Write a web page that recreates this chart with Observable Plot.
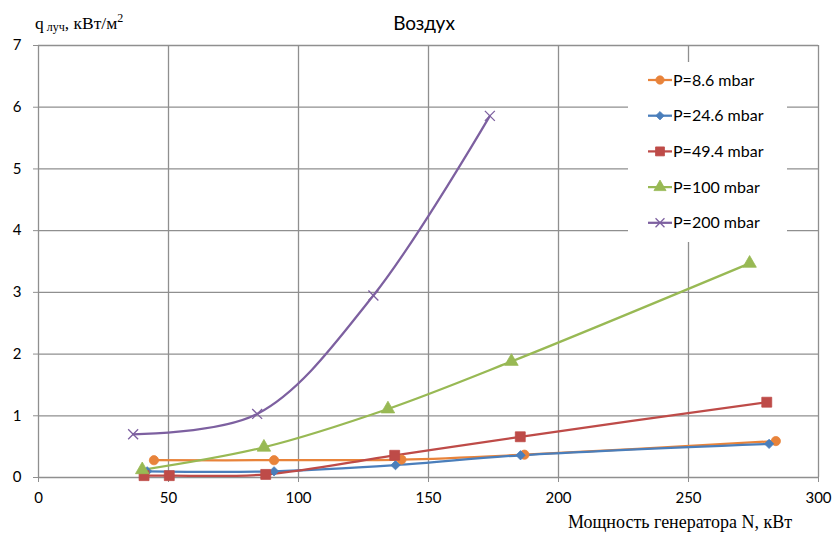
<!DOCTYPE html>
<html>
<head>
<meta charset="utf-8">
<script src="https://cdn.jsdelivr.net/npm/d3@7"></script>
<script src="https://cdn.jsdelivr.net/npm/@observablehq/plot@0.6"></script>
<style>
  html, body { margin: 0; padding: 0; background: #fff; }
  #chart svg { display: block; }
</style>
</head>
<body>
<div id="chart"></div>
<script>
// Radiant heat flux vs generator power, air, at several pressures
const seriesNames = ["P=8.6 mbar", "P=24.6 mbar", "P=49.4 mbar", "P=100 mbar", "P=200 mbar"];
const seriesColors = ["#E8833A", "#4A7EBB", "#BE4B48", "#98B954", "#7D60A0"];
const seriesSymbols = ["circle", "diamond2", "square", "triangle", "times"];
const seriesSizes = [4.6, 4.2, 5.6, 5, 4.6];

const p86N = [44.4, 90.6, 139.6, 186.9, 283.6];
const p86Q = [0.28, 0.28, 0.29, 0.37, 0.59];
const p246N = [41.8, 90.6, 137.3, 185.4, 281.0];
const p246Q = [0.10, 0.10, 0.20, 0.36, 0.545];
const p494N = [40.6, 50.3, 87.4, 137.0, 185.3, 280.1];
const p494Q = [0.03, 0.03, 0.05, 0.36, 0.66, 1.22];
const p100N = [39.9, 86.7, 134.4, 181.9, 273.5];
const p100Q = [0.125, 0.49, 1.11, 1.88, 3.47];
const p200N = [36.4, 84.1, 128.8, 173.6];
const p200Q = [0.70, 1.03, 2.95, 5.86];

const xTicks = [0, 50, 100, 150, 200, 250, 300];
const yTicks = [0, 1, 2, 3, 4, 5, 6, 7];

const seriesN = [p86N, p246N, p494N, p100N, p200N];
const seriesQ = [p86Q, p246Q, p494Q, p100Q, p200Q];

const rows = seriesNames.map((name, i) =>
  seriesN[i].map((n, j) => ({series: name, idx: i, N: n, q: seriesQ[i][j]}))
);

const gridColor = "#8f8f8f";

const marks = [
  Plot.gridX(xTicks, {stroke: gridColor, strokeOpacity: 1, strokeWidth: 1.3}),
  Plot.gridY(yTicks, {stroke: gridColor, strokeOpacity: 1, strokeWidth: 1.3}),
  Plot.axisX(xTicks, {tickSize: 5, tickPadding: 10, stroke: gridColor, fill: "#000", fontSize: 15, label: null, tickFormat: d3.format("d")}),
  Plot.axisY(yTicks, {tickSize: 5, tickPadding: 12, stroke: gridColor, fill: "#000", fontSize: 15, label: null, tickFormat: d3.format("d")})
];

rows.forEach((data, i) => {
  marks.push(Plot.line(data, {
    x: "N", y: "q", stroke: seriesColors[i], strokeWidth: 2.25, curve: "catmull-rom"
  }));
});
rows.forEach((data, i) => {
  const sym = seriesSymbols[i];
  const hollow = sym === "times";
  marks.push(Plot.dot(data, {
    x: "N", y: "q", symbol: () => sym, r: seriesSizes[i],
    fill: hollow ? "none" : seriesColors[i],
    stroke: seriesColors[i], strokeWidth: hollow ? 1.3 : 0.8
  }));
});

const chart = Plot.plot({
  width: 834,
  height: 533,
  marginLeft: 38,
  marginRight: 16,
  marginTop: 45,
  marginBottom: 56,
  x: {domain: [0, 300], label: null},
  y: {domain: [0, 7], label: null},
  symbol: {domain: seriesSymbols, range: seriesSymbols},
  style: {fontFamily: "Lato, 'Open Sans', sans-serif", fontSize: "15px", color: "#000", background: "#fff"},
  marks
});

document.getElementById("chart").appendChild(chart);

// Titles and legend
const svg = d3.select(chart);

svg.append("text")
  .attr("x", 424).attr("y", 30)
  .attr("text-anchor", "middle")
  .style("font-family", "Lato, sans-serif")
  .style("font-size", "19px")
  .attr("fill", "#000")
  .text("Воздух");

const yLab = svg.append("text")
  .attr("x", 35).attr("y", 29)
  .attr("text-anchor", "start")
  .style("font-family", "'Liberation Serif', 'DejaVu Serif', serif")
  .style("font-size", "17.5px")
  .attr("fill", "#000");
yLab.append("tspan").text("q");
yLab.append("tspan").attr("dy", 2).style("font-size", "12px").text(" луч");
yLab.append("tspan").attr("dy", -2).text(", кВт/м");
yLab.append("tspan").attr("dy", -7).style("font-size", "12px").text("2");

svg.append("text")
  .attr("x", 792).attr("y", 528)
  .attr("text-anchor", "end")
  .style("font-family", "'Liberation Serif', 'DejaVu Serif', serif")
  .style("font-size", "18px")
  .attr("fill", "#000")
  .text("Мощность генератора N, кВт");

const legend = svg.append("g");
legend.append("rect")
  .attr("x", 628).attr("y", 62).attr("width", 159).attr("height", 180)
  .attr("fill", "#fff");

const symbolTypes = {
  circle: d3.symbolCircle, diamond2: d3.symbolDiamond2, square: d3.symbolSquare,
  triangle: d3.symbolTriangle, times: d3.symbolTimes
};
const legendY0 = 80, legendStep = 35.7;
seriesNames.forEach((name, i) => {
  const y = legendY0 + i * legendStep;
  const g = legend.append("g");
  g.append("line")
    .attr("x1", 648).attr("x2", 672).attr("y1", y).attr("y2", y)
    .attr("stroke", seriesColors[i]).attr("stroke-width", 2.25);
  const r = seriesSizes[i] * 0.9;
  const sym = seriesSymbols[i];
  const hollow = sym === "times";
  g.append("path")
    .attr("transform", `translate(660,${y})`)
    .attr("d", d3.symbol(symbolTypes[sym], Math.PI * r * r)())
    .attr("fill", hollow ? "none" : seriesColors[i])
    .attr("stroke", seriesColors[i])
    .attr("stroke-width", hollow ? 1.3 : 0.8);
  g.append("text")
    .attr("x", 673).attr("y", y).attr("dy", "0.35em")
    .attr("text-anchor", "start")
    .style("font-family", "Lato, sans-serif")
    .style("font-size", "16px")
    .attr("fill", "#000")
    .text(name);
});
</script>
</body>
</html>
